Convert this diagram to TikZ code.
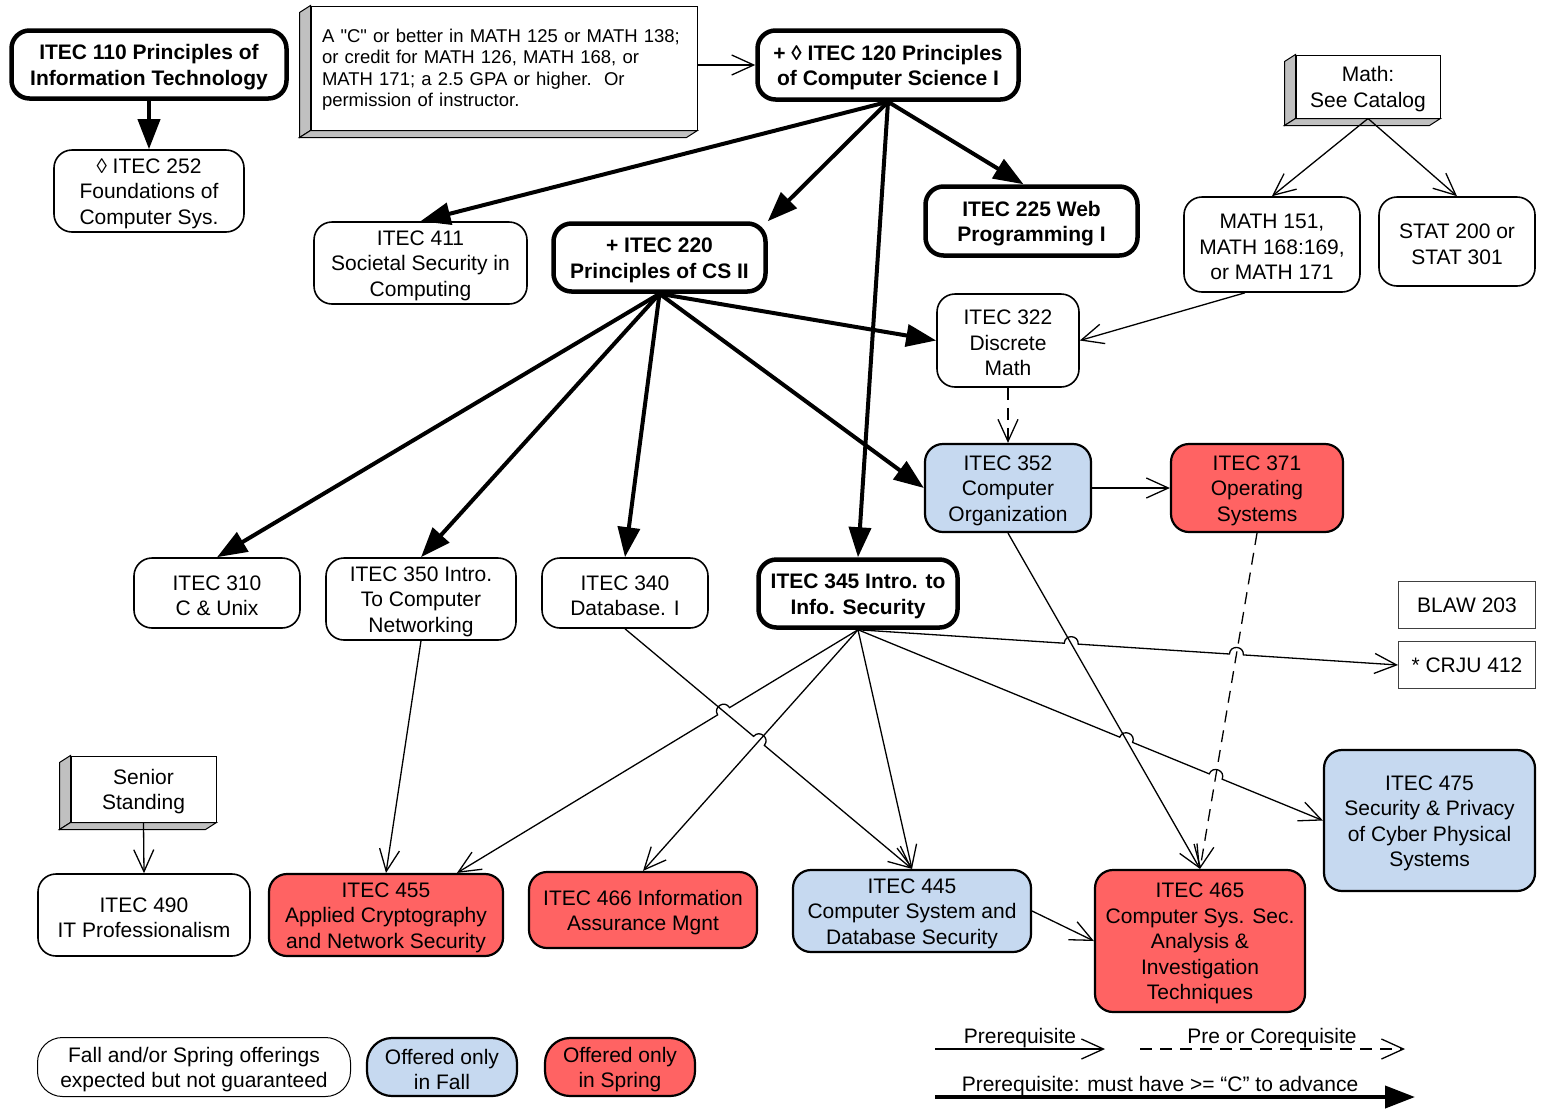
\documentclass[tikz,border=0pt]{standalone}
\usepackage{fontspec}
\setmainfont{Liberation Sans}
\usetikzlibrary{arrows.meta,calc,intersections}
\definecolor{fallblue}{RGB}{198,217,240}
\definecolor{springred}{RGB}{255,99,99}
\definecolor{shadegray}{RGB}{192,192,192}
\newcommand\myfs{\fontsize{21}{25.5}\selectfont}
\newcommand\notefs{\fontsize{18.5}{21.5}\selectfont}
\newcommand\T{\rule{0pt}{20pt}}
\newcommand\sq{\XeTeXglyph\XeTeXcharglyph"22\relax}
\newcommand\mkhop[6]{%
  \coordinate (#1a) at ($(#2)!7pt!(#3)$);
  \coordinate (#1b) at ($(#2)!7pt!(#4)$);
  \coordinate (#1c) at ($(#1a)!9.33pt!#5:(#2)$);
  \coordinate (#1d) at ($(#1b)!9.33pt!#6:(#2)$);
}
\begin{document}
\begin{tikzpicture}[x=1pt,y=-1pt,
 box/.style={draw, rounded corners=18pt, align=center, inner sep=1pt, font=\myfs, line width=1.6pt},
 bbox/.style={box, line width=4.5pt, font=\myfs\bfseries},
 fallbox/.style={box, fill=fallblue, line width=2.2pt},
 springbox/.style={box, fill=springred, line width=2.2pt},
 plainrect/.style={draw=black!75, line width=1pt, font=\myfs, inner sep=1pt},
 face/.style={draw, line width=1pt, fill=white, font=\myfs, align=center, inner sep=1pt},
 sideface/.style={draw, line width=1pt, fill=shadegray},
 thinarr/.style={line width=1.3pt, -{Straight Barb[length=22pt,width=20pt,line width=1.3pt]}},
 dasharr/.style={thinarr, dash pattern=on 12pt off 8pt},
 thickarr/.style={line width=4pt, -{Triangle[length=30pt,width=22pt]}},
 sz/.style 2 args={minimum width=#1pt, minimum height=#2pt},
]
\useasboundingbox[fill=white] (0,0) rectangle (1546,1109);

% ---- 3D boxes
\node[face, sz={386}{124}, align=left, font=\notefs, text width=364pt, inner xsep=11pt] (note) at (504,68)
 {\rule{0pt}{17pt}A \sq C\sq{} or better in MATH 125 or MATH 138;\\or credit for MATH 126, MATH 168, or\\MATH 171; a 2.5 GPA or higher.\ \ Or\\permission of instructor.};
\node[face, sz={144}{63}] (math) at (1368,86.5) {\T Math:\\See Catalog};
\node[face, sz={145}{66}] (senior) at (143.5,789) {\T Senior\\Standing};
\foreach \b in {note,math,senior}{
  \draw[sideface] (\b.north west) -- ++(-11,7) -- ($(\b.south west)+(-11,7)$) -- (\b.south west) -- cycle;
  \draw[sideface] (\b.south west) -- ++(-11,7) -- ($(\b.south east)+(-11,7)$) -- (\b.south east) -- cycle;
}

% ---- course nodes
\node[bbox, sz={275}{68}] (n110) at (149,64.5) {\T ITEC 110 Principles of\\Information Technology};
\node[box, sz={190}{82}] (n252) at (149,191) {\T ◊ ITEC 252\\Foundations of\\Computer Sys.};
\node[bbox, sz={261}{69}] (n120) at (888,65) {\T + ◊ ITEC 120 Principles\\of Computer Science I};
\node[bbox, sz={212}{69}] (n225) at (1031.5,221) {\T ITEC 225 Web\\Programming I};
\node[box, sz={213}{82}] (n411) at (420.5,263) {\T ITEC 411\\Societal Security in\\Computing};
\node[bbox, sz={212}{68}] (n220) at (659.5,257.5) {\T + ITEC 220\\Principles of CS II};
\node[box, sz={142}{93}] (n322) at (1008,340.5) {\T ITEC 322\\Discrete\\Math};
\node[box, sz={176}{95}] (m151) at (1272,244.5) {\T MATH 151,\\MATH 168:169,\\or MATH 171};
\node[box, sz={156}{89}] (stat) at (1457,241.5) {\T STAT 200 or\\STAT 301};
\node[fallbox, sz={166}{88}] (n352) at (1008,488) {\T ITEC 352\\Computer\\Organization};
\node[springbox, sz={172}{88}] (n371) at (1257,488) {\T ITEC 371\\Operating\\Systems};
\node[box, sz={166}{70}] (n310) at (217,593) {\T ITEC 310\\C \& Unix};
\node[box, sz={190}{82}] (n350) at (421,599) {\T ITEC 350 Intro.\\To Computer\\Networking};
\node[box, sz={166}{70}] (n340) at (625,593) {\T ITEC 340\\Database. I};
\node[bbox, sz={199}{68}] (n345) at (858,593.5) {\T ITEC 345 Intro. to\\Info. Security};
\node[plainrect, sz={137}{47}] (blaw) at (1467,605) {BLAW 203};
\node[plainrect, sz={137}{47}] (crju) at (1467,665) {* CRJU 412};
\node[fallbox, sz={211}{141}] (n475) at (1429.5,820.5) {\T ITEC 475\\Security \& Privacy\\of Cyber Physical\\Systems};
\node[box, sz={212}{82}] (n490) at (144,915) {\T ITEC 490\\IT Professionalism};
\node[springbox, sz={234}{82}] (n455) at (386,915) {\T ITEC 455\\Applied Cryptography\\and Network Security};
\node[springbox, sz={228}{76}] (n466) at (643,910) {\T ITEC 466 Information\\Assurance Mgnt};
\node[fallbox, sz={238}{82}] (n445) at (912,911) {\T ITEC 445\\Computer System and\\Database Security};
\node[springbox, sz={210}{142}] (n465) at (1200,941) {\T ITEC 465\\Computer Sys. Sec.\\Analysis \&\\Investigation\\Techniques};

% ---- legend
\node[box, line width=1pt, rounded corners=25pt, sz={313}{59}] (lg1) at (194,1067) {\T Fall and/or Spring offerings\\expected but not guaranteed};
\node[fallbox, rounded corners=25pt, sz={150}{58}] (lg2) at (442,1067) {\T Offered only\\in Fall};
\node[springbox, rounded corners=25pt, sz={150}{58}] (lg3) at (620,1067) {\T Offered only\\in Spring};
\coordinate (la) at (935,1049); \coordinate (lb) at (1105,1049);
\coordinate (lc) at (1140,1049); \coordinate (ld) at (1405,1049);
\coordinate (le) at (935,1097); \coordinate (lf) at (1415,1097);
\draw[thinarr] (la) -- (lb);
\draw[dasharr] (lc) -- (ld);
\draw[thickarr] (le) -- (lf);
\node[font=\myfs, inner sep=0pt] (t1) at (1020,1038) {Prerequisite};
\node[font=\myfs, inner sep=0pt] (t2) at (1272,1038) {Pre or Corequisite};
\node[font=\myfs, inner sep=0pt] (t3) at (1160,1086) {Prerequisite: must have >= “C” to advance};

% ---- thick prerequisite arrows
\draw[thickarr] (n110.south) -- (n252.north);
\draw[thickarr] (n120.south) -- (n411.north);
\draw[thickarr] (n120.south) -- (n220.north east);
\draw[thickarr] (n120.south) -- ($(n225.north)+(-8,0)$);
\draw[thickarr] (n120.south) -- (n345.north);
\draw[thickarr] (n220.south) -- (n310.north);
\draw[thickarr] (n220.south) -- (n350.north);
\draw[thickarr] (n220.south) -- (n340.north);
\draw[thickarr] (n220.south) -- (n322.west);
\draw[thickarr] (n220.south) -- (n352.west);

% ---- thin arrows
\draw[thinarr] (note.east |- n120.west) -- (n120.west);
\draw[thinarr] (math.south) -- (m151.north);
\draw[thinarr] (math.south) -- (stat.north);
\draw[thinarr] ($(m151.south)+(-27,0)$) -- (n322.east);
\draw[dasharr] (n322.south) -- (n352.north);
\draw[thinarr] (n352.east) -- (n371.west);
\draw[thinarr] (n352.south) -- (n465.north);
\draw[dasharr] (n371.south) -- (n465.north);
\draw[thinarr] (n350.south) -- (n455.north);
\draw[thinarr] (senior.south) -- (n490.north);
\draw[thinarr] (n445.east) -- (n465.west);
\draw[thinarr] (n345.south) -- (n445.north);
\draw[thinarr] (n345.south) -- (n466.north);

% ---- lines with hops
\coordinate (t455) at ($(n455.north)+(71,0)$);
\path[name path=L352] (n352.south) -- (n465.north);
\path[name path=L371] (n371.south) -- (n465.north);
\path[name path=Lcr] (n345.south) -- (crju.west);
\path[name path=Lt] (n345.south) -- (n475.west);
\path[name path=La] (n345.south) -- (t455);
\path[name path=Lb] (n340.south) -- (n445.north);
\path[name path=Lc] (n345.south) -- (n466.north);
\path[name intersections={of=Lcr and L352, by=X1}];
\path[name intersections={of=Lcr and L371, by=X2}];
\path[name intersections={of=Lt and L352, by=X3}];
\path[name intersections={of=Lt and L371, by=X4}];
\path[name intersections={of=La and Lb, by=X5}];
\path[name intersections={of=Lb and Lc, by=X6}];
\mkhop{ha}{X1}{n345.south}{crju.west}{90}{-90}
\mkhop{hb}{X2}{n345.south}{crju.west}{90}{-90}
\mkhop{hc}{X3}{n345.south}{n475.west}{90}{-90}
\mkhop{hd}{X4}{n345.south}{n475.west}{90}{-90}
\mkhop{he}{X5}{n345.south}{t455}{-90}{90}
\mkhop{hf}{X6}{n340.south}{n445.north}{90}{-90}
\draw[thinarr] (n345.south) -- (haa) .. controls (hac) and (had) .. (hab) -- (hba) .. controls (hbc) and (hbd) .. (hbb) -- (crju.west);
\draw[thinarr] (n345.south) -- (hca) .. controls (hcc) and (hcd) .. (hcb) -- (hda) .. controls (hdc) and (hdd) .. (hdb) -- (n475.west);
\draw[thinarr] (n345.south) -- (hea) .. controls (hec) and (hed) .. (heb) -- (t455);
\draw[thinarr] (n340.south) -- (hfa) .. controls (hfc) and (hfd) .. (hfb) -- (n445.north);
\end{tikzpicture}
\end{document}
